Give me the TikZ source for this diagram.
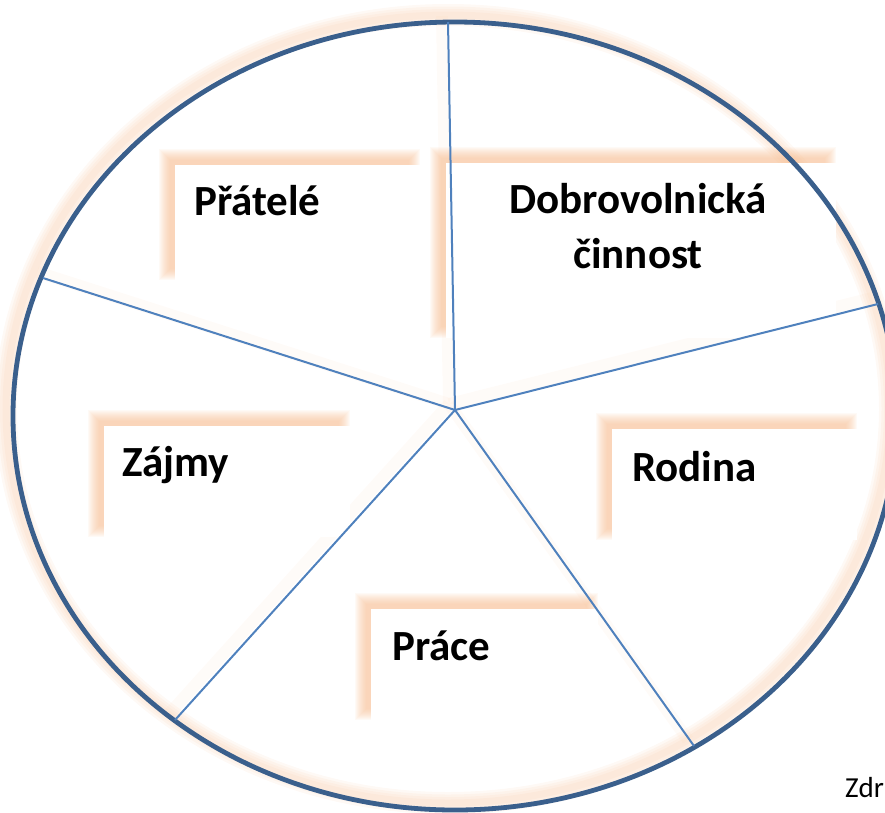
\documentclass[tikz,border=0pt]{standalone}
\usepackage{fontspec}
\setmainfont{Carlito}
\usetikzlibrary{positioning,calc}

\definecolor{ringblue}{RGB}{58,95,140}
\definecolor{spokeblue}{RGB}{79,129,189}
\definecolor{glow}{RGB}{246,186,140}

% soft orange glow behind a card, shifted up and left
\newcommand{\cardglow}[4]{%
  \foreach \e in {-3,...,8}{
    \fill[glow, fill opacity=0.075]
      ({#1-8-(\e)},{#2-8-(\e)}) rectangle ({#3-8+(\e)},{#4-8+(\e)});
  }
  \fill[white] (#1,#2) rectangle (#3,#4);
}

\begin{document}
\begin{tikzpicture}[
        x=1pt, y=-1pt,
        ring/.style={draw=ringblue, line width=4.8pt},
        spoke/.style={draw=spokeblue, line width=2pt},
        ringglow/.style={draw=glow, opacity=0.09},
        label/.style={font=\fontsize{43}{55}\selectfont\bfseries, inner sep=0pt, anchor=base west}
    ]
    \useasboundingbox (0,0) rectangle (885,812);

    % --- hub and rim points ---
    \coordinate (hub) at (455,410);
    \coordinate (rimtop) at (448,22);
    \coordinate (rimright) at (878,304);
    \coordinate (rimlowright) at (694,746);
    \coordinate (rimlowleft) at (175,720);
    \coordinate (rimleft) at (43,278);

    % --- glow of ring and spokes ---
    \foreach \w in {22,17,12,7}{
        \draw[ringglow, line width=\w pt] (448,409) ellipse [x radius=442pt, y radius=394pt];
    }
    \foreach \r in {rimtop,rimright,rimlowright,rimlowleft,rimleft}{
        \draw[glow, opacity=0.06, line width=12pt] ($(hub)+(-6,-6)$) -- ($(\r)+(-6,-6)$);
    }

    % --- cards ---
    \cardglow{175}{165}{420}{280}
    \cardglow{446}{163}{836}{338}
    \cardglow{104}{426}{350}{537}
    \cardglow{612}{429}{857}{540}
    \cardglow{371}{609}{598}{720}

    % --- ring and spokes ---
    \draw[ring] (455,416) ellipse [x radius=442pt, y radius=394pt];
    \foreach \r in {rimtop,rimright,rimlowright,rimlowleft,rimleft}{
        \draw[spoke] (hub) -- (\r);
    }

    % --- labels ---
    \node (pratele) [label] at (194,215) {Přátelé};
    \node (dobro) [label, anchor=base, align=center] at (638,268) {Dobrovolnická\\činnost};
    \node (zajmy) [label] at (122,476) {Zájmy};
    \node (rodina) [label] at (632,481) {Rodina};
    \node (prace) [label] at (392,660) {Práce};
    \node (zdroj) [font=\fontsize{29}{35}\selectfont, inner sep=0pt, anchor=base west] at (845,797) {Zdr};

\end{tikzpicture}
\end{document}
